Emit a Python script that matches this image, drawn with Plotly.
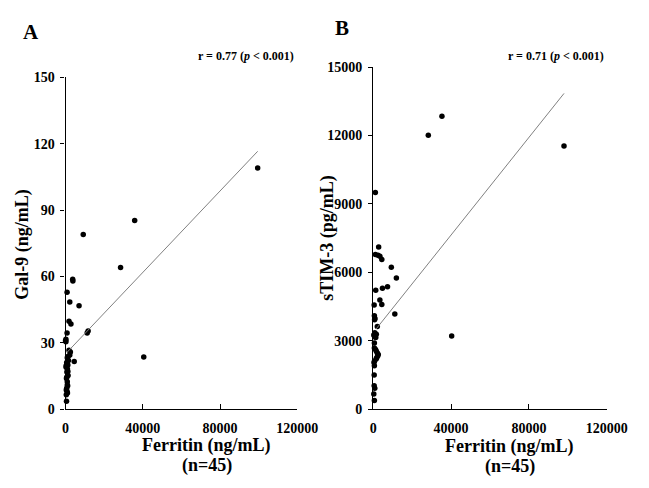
import plotly.graph_objects as go

# Panel A: Ferritin vs Gal-9
ferritin_a = [99500, 35800, 9170, 28500, 40500, 3700, 3800, 800, 2200, 7000,
              1800, 2800, 800, 11700, 11200, 200, 0, 1800, 2500, 2200,
              4500, 900, 1500, 600, 1200, 300, 1000, 700, 1300, 500,
              900, 1100, 600, 400, 800, 1000, 500, 200, 1400, 700,
              300, 1200, 600, 900, 400]
gal9 = [109, 85.3, 79.0, 64.1, 23.6, 58.7, 58.0, 52.9, 48.5, 46.8,
        39.8, 38.5, 34.5, 35.4, 34.5, 31.6, 31.0, 26.7, 25.9, 24.5,
        21.6, 23.3, 22.0, 21.1, 20.0, 19.7, 18.2, 16.8, 15.3, 13.9,
        12.4, 10.6, 9.5, 8.7, 8.0, 7.3, 3.6, 30.5, 24.0, 20.5,
        19.0, 17.0, 14.5, 11.0, 6.5]

# Panel B: Ferritin vs sTIM-3
ferritin_b = [28300, 1100, 2800, 1100, 2450, 3430, 4410, 9300, 11900, 1300,
              4750, 7350, 3430, 4410, 490, 600, 900, 700, 11100, 2100,
              40300, 800, 1600, 300, 700, 1300, 600, 1200, 1600, 2100,
              2600, 2300, 1800, 700, 400, 600, 500, 800, 300, 600,
              98000, 35300, 600, 1500, 500]
stim3 = [12010, 9500, 7110, 6780, 6750, 6710, 6570, 6220, 5750, 5215,
         5300, 5370, 4790, 4590, 4570, 4100, 3980, 3920, 4170, 3630,
         3210, 3350, 3290, 3250, 3180, 3150, 2680, 2615, 2540, 2470,
         2400, 2330, 2260, 2120, 2050, 1910, 1030, 920, 665, 380,
         11545, 12850, 2900, 2200, 1500]

# Regression lines
fit_a = {"intercept": 25.0, "slope": 0.00092}
fit_b = {"intercept": 3360.0, "slope": 0.107}
line_x_a = [800, 99500]
line_x_b = [1500, 98000]

x_ticks = [0, 40000, 80000, 120000]
y_ticks_a = [0, 30, 60, 90, 120, 150]
y_ticks_b = [0, 3000, 6000, 9000, 12000, 15000]

FONT = "Liberation Serif"
W, H = 649, 488

fig = go.Figure()
fig.add_trace(go.Scatter(x=ferritin_a, y=gal9, mode="markers",
                         marker=dict(color="black", size=5.5),
                         cliponaxis=False, xaxis="x", yaxis="y"))
fig.add_trace(go.Scatter(x=line_x_a,
                         y=[fit_a["intercept"] + fit_a["slope"] * v for v in line_x_a],
                         mode="lines", line=dict(color="#808080", width=1),
                         xaxis="x", yaxis="y"))
fig.add_trace(go.Scatter(x=ferritin_b, y=stim3, mode="markers",
                         marker=dict(color="black", size=5.5),
                         cliponaxis=False, xaxis="x2", yaxis="y2"))
fig.add_trace(go.Scatter(x=line_x_b,
                         y=[fit_b["intercept"] + fit_b["slope"] * v for v in line_x_b],
                         mode="lines", line=dict(color="#808080", width=1),
                         xaxis="x2", yaxis="y2"))

def px_x(p):
    return p / W

def px_y(p):
    return 1 - p / H

def bold(vals):
    return ["<b>%d</b>" % v for v in vals]

tickfont = dict(family=FONT, size=14, color="black")
common_x = dict(range=[0, 120000], tickvals=x_ticks, ticktext=bold(x_ticks),
                showline=True, linecolor="black", linewidth=1.2, ticks="inside",
                ticklen=5, tickcolor="black", showgrid=False, zeroline=False,
                tickfont=tickfont, ticklabelstandoff=6)
common_y = dict(showline=True, linecolor="black", linewidth=1.2, ticks="outside",
                ticklen=4, tickcolor="black", showgrid=False, zeroline=False,
                tickfont=tickfont, ticklabelstandoff=3)

fig.update_layout(
    width=W, height=H, margin=dict(l=0, r=0, t=0, b=0),
    paper_bgcolor="white", plot_bgcolor="white", showlegend=False,
    xaxis=dict(domain=[px_x(64), px_x(305)], anchor="y", **common_x),
    yaxis=dict(domain=[px_y(415), px_y(72.5)], anchor="x", range=[0, 150],
               tickvals=y_ticks_a, ticktext=bold(y_ticks_a), **common_y),
    xaxis2=dict(domain=[px_x(384), px_x(627)], anchor="y2", **common_x),
    yaxis2=dict(domain=[px_y(415), px_y(62)], anchor="x2", range=[0, 15000],
                tickvals=y_ticks_b, ticktext=bold(y_ticks_b), **common_y),
)

ann = []
def add_text(text, x, y, size, xanchor="center", yanchor="middle", angle=0):
    ann.append(dict(text=text, x=px_x(x), y=px_y(y), xref="paper", yref="paper",
                    showarrow=False, xanchor=xanchor, yanchor=yanchor, textangle=angle,
                    font=dict(family=FONT, size=size, color="black")))

add_text("<b>A</b>", 18, 26, 21, xanchor="left")
add_text("<b>B</b>", 342, 22, 21, xanchor="left")
add_text("<b>r = 0.77 (<i>p</i> &lt; 0.001)</b>", 304, 51, 12, xanchor="right")
add_text("<b>r = 0.71 (<i>p</i> &lt; 0.001)</b>", 626, 51, 12, xanchor="right")
add_text("<b>Gal-9 (ng/mL)</b>", 19, 245, 18, angle=-90)
add_text("<b>sTIM-3 (pg/mL)</b>", 337, 238, 18, angle=-90)
add_text("<b>Ferritin (ng/mL)</b>", 210, 452, 18)
add_text("<b>(n=45)</b>", 211, 473, 18)
add_text("<b>Ferritin (ng/mL)</b>", 525, 453, 18)
add_text("<b>(n=45)</b>", 526, 474, 18)
fig.update_layout(annotations=ann)

fig.write_html("out.html")
